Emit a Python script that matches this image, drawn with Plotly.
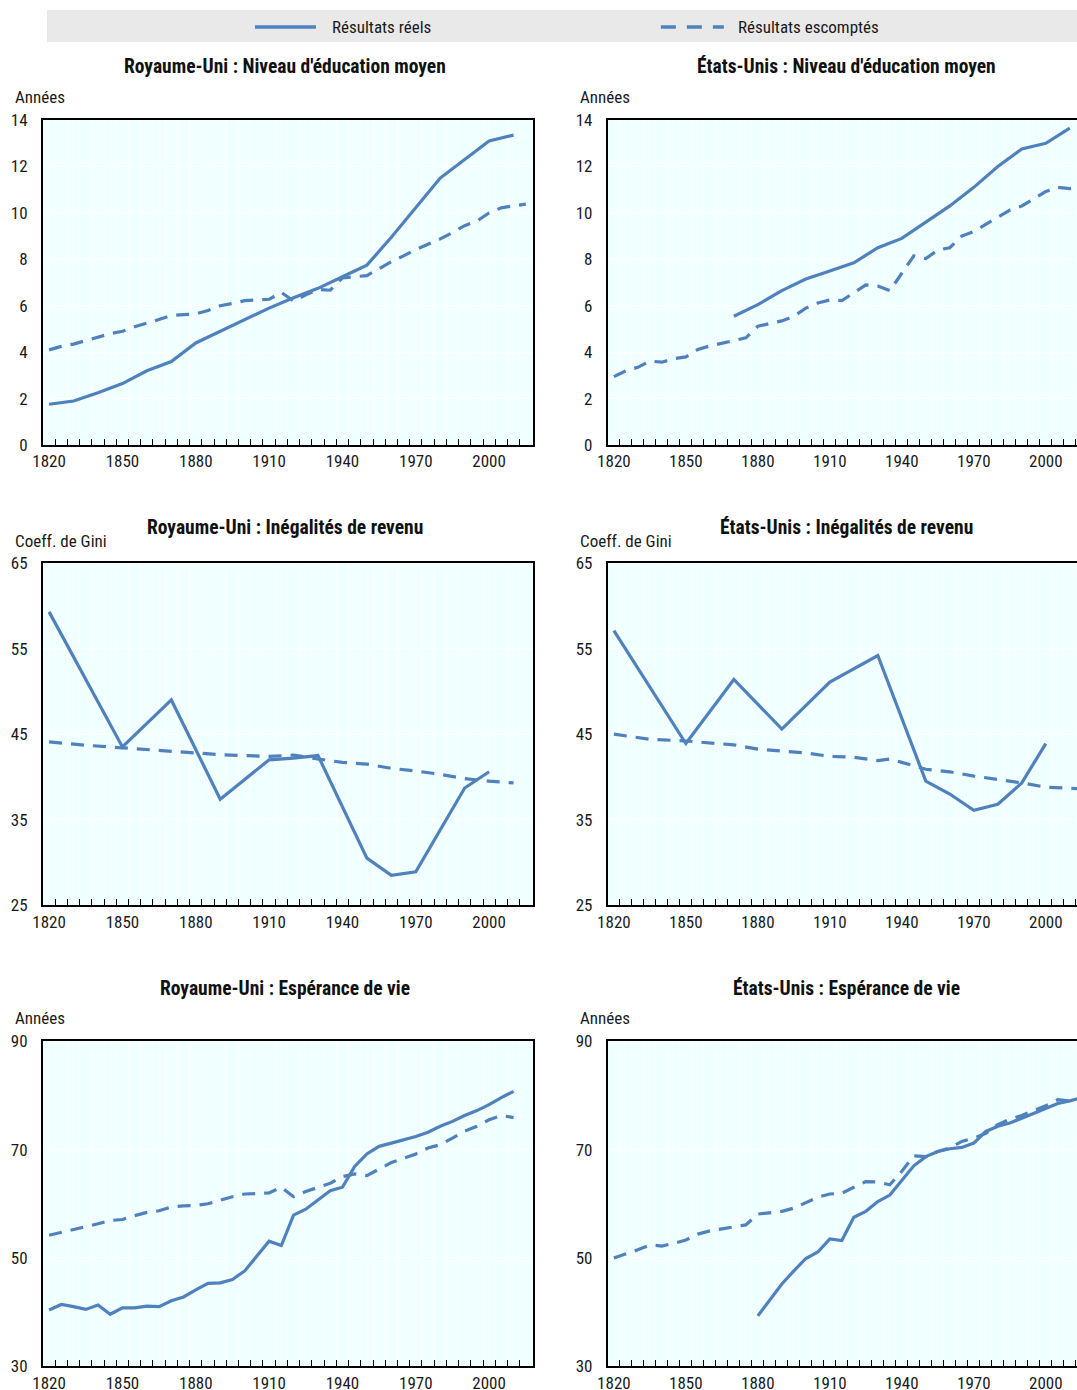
import plotly.graph_objects as go

# ---------------------------------------------------------------- data
# Royaume-Uni : niveau d'éducation moyen (années)
uk_edu_years_actual = [1820, 1830, 1840, 1850, 1860, 1870, 1880, 1890, 1900, 1910,
                       1920, 1930, 1940, 1950, 1960, 1970, 1980, 1990, 2000, 2010]
uk_edu_actual = [1.76, 1.9, 2.25, 2.65, 3.2, 3.6, 4.4, 4.9, 5.4, 5.9,
                 6.35, 6.75, 7.25, 7.75, 8.95, 10.2, 11.5, 12.3, 13.1, 13.35]
uk_edu_years_expected = list(range(1820, 2020, 5))
uk_edu_expected = [4.1, 4.25, 4.35, 4.5, 4.65, 4.8, 4.9, 5.1, 5.25, 5.4,
                   5.58, 5.62, 5.65, 5.8, 6.0, 6.1, 6.22, 6.25, 6.28, 6.58,
                   6.2, 6.47, 6.7, 6.67, 7.2, 7.25, 7.3, 7.6, 7.9, 8.15,
                   8.42, 8.65, 8.88, 9.15, 9.45, 9.65, 10.0, 10.22, 10.3, 10.38]

# États-Unis : niveau d'éducation moyen (années)
us_edu_years_actual = [1870, 1880, 1890, 1900, 1910, 1920, 1930, 1940, 1950, 1960,
                       1970, 1980, 1990, 2000, 2010]
us_edu_actual = [5.55, 6.05, 6.65, 7.15, 7.5, 7.85, 8.5, 8.9, 9.6, 10.3,
                 11.1, 12.0, 12.75, 13.0, 13.65]
us_edu_years_expected = list(range(1820, 2020, 5))
us_edu_expected = [2.95, 3.2, 3.35, 3.62, 3.57, 3.72, 3.8, 4.12, 4.27, 4.38,
                   4.48, 4.62, 5.12, 5.22, 5.35, 5.55, 5.9, 6.12, 6.25, 6.22,
                   6.55, 6.9, 6.85, 6.65, 7.4, 8.15, 8.03, 8.4, 8.5, 9.0,
                   9.2, 9.5, 9.82, 10.12, 10.3, 10.62, 10.92, 11.1, 11.05, 11.1]

# Royaume-Uni : inégalités de revenu (coefficient de Gini)
uk_gini_years_actual = [1820, 1850, 1870, 1890, 1910, 1920, 1930, 1950, 1960, 1970, 1990, 2000]
uk_gini_actual = [59.3, 43.5, 49.0, 37.4, 42.0, 42.2, 42.5, 30.5, 28.5, 28.9, 38.7, 40.6]
uk_gini_years_expected = [1820, 1835, 1850, 1870, 1880, 1890, 1910, 1920, 1930, 1940,
                          1950, 1960, 1970, 1980, 1990, 2000, 2010]
uk_gini_expected = [44.1, 43.7, 43.4, 43.0, 42.85, 42.6, 42.4, 42.55, 42.1, 41.7,
                    41.5, 41.0, 40.7, 40.3, 39.8, 39.5, 39.3]

# États-Unis : inégalités de revenu (coefficient de Gini)
us_gini_years_actual = [1820, 1850, 1870, 1890, 1910, 1930, 1950, 1960, 1970, 1980, 1990, 2000]
us_gini_actual = [57.1, 43.9, 51.4, 45.6, 51.1, 54.2, 39.5, 38.0, 36.1, 36.8, 39.3, 43.9]
us_gini_years_expected = [1820, 1835, 1850, 1860, 1870, 1880, 1890, 1900, 1910, 1920,
                          1930, 1935, 1940, 1950, 1960, 1970, 1980, 1990, 2000, 2010, 2015]
us_gini_expected = [45.0, 44.4, 44.2, 43.95, 43.75, 43.25, 43.05, 42.8, 42.4, 42.3,
                    41.9, 42.1, 41.7, 40.9, 40.6, 40.1, 39.7, 39.3, 38.8, 38.6, 38.6]

# Royaume-Uni : espérance de vie (années)
uk_life_years = list(range(1820, 2015, 5))
uk_life_actual = [40.4, 41.4, 41.0, 40.5, 41.3, 39.6, 40.8, 40.8, 41.1, 41.0,
                  42.1, 42.8, 44.1, 45.3, 45.4, 46.0, 47.6, 50.4, 53.1, 52.3,
                  57.9, 59.0, 60.7, 62.4, 63.05, 66.9, 69.2, 70.6, 71.2, 71.8,
                  72.4, 73.2, 74.3, 75.2, 76.3, 77.2, 78.3, 79.6, 80.75]
uk_life_expected = [54.2, 54.7, 55.2, 55.8, 56.3, 56.9, 57.1, 57.8, 58.4, 58.7,
                    59.4, 59.6, 59.7, 60.0, 60.7, 61.3, 61.8, 61.95, 62.0, 63.05,
                    61.3, 62.25, 63.05, 63.8, 65.0, 65.5, 65.2, 66.4, 67.6, 68.4,
                    69.2, 70.3, 70.9, 72.1, 73.4, 74.3, 75.5, 76.3, 75.9]

# États-Unis : espérance de vie (années)
us_life_years_actual = list(range(1880, 2020, 5))
us_life_actual = [39.3, 42.3, 45.2, 47.6, 49.9, 51.1, 53.5, 53.2, 57.5, 58.6,
                  60.4, 61.6, 64.4, 67.0, 68.7, 69.65, 70.15, 70.4, 71.2, 73.35,
                  74.3, 74.9, 75.8, 76.7, 77.5, 78.5, 79.0, 79.6]
us_life_years_expected = list(range(1820, 2020, 5))
us_life_expected = [50.0, 50.7, 51.5, 52.4, 52.2, 52.7, 53.3, 54.4, 55.0, 55.35,
                    55.7, 56.1, 58.1, 58.4, 58.6, 59.2, 60.2, 61.2, 61.8, 61.95,
                    63.05, 64.1, 64.0, 63.5, 66.0, 68.85, 68.7, 69.65, 70.3, 71.5,
                    72.1, 73.0, 74.6, 75.6, 76.3, 77.2, 78.1, 79.2, 79.0, 79.6]

x_tick_years = [1820, 1850, 1880, 1910, 1940, 1970, 2000]
x_boundaries = [1822.5 + 5 * k for k in range(39)]

panel_titles = ["Royaume-Uni : Niveau d'éducation moyen", "États-Unis : Niveau d'éducation moyen",
                "Royaume-Uni : Inégalités de revenu", "États-Unis : Inégalités de revenu",
                "Royaume-Uni : Espérance de vie", "États-Unis : Espérance de vie"]
unit_labels = ["Années", "Coeff. de Gini", "Années"]
legend_labels = ["Résultats réels", "Résultats escomptés"]

y_ticks = [[0, 2, 4, 6, 8, 10, 12, 14], [25, 35, 45, 55, 65], [30, 50, 70, 90]]
y_ranges = [[0, 14], [25, 65], [30, 90]]

# ---------------------------------------------------------------- style
PAGE_W, PAGE_H = 1077, 1390
# page position of a figure pixel: page = OFFSET + SCALE * figure
OFFSET_X, OFFSET_Y = 10, 10
SCALE_X, SCALE_Y = 0.99, 0.9855
W = round((PAGE_W - OFFSET_X) / SCALE_X)
H = round((PAGE_H - OFFSET_Y) / SCALE_Y)

FONT = "Liberation Sans Narrow, Arial Narrow, Roboto Condensed, Arial, sans-serif"
BLUE = "#4F81BD"
PLOT_BG = "#F0FFFF"
TEXT = "#1a1a1a"
DASH = "13px,9px"
PX_PER_YEAR = [2.445, 2.4]

# plot-area boxes in page pixels: (left, right) per column, (top, bottom) per row
cols_px = [(42, 532), (607, PAGE_W)]
rows_px = [(120, 445), (563, 905), (1041, 1366)]
x_ranges = [[1817.5, 1817.5 + (cols_px[c][1] - cols_px[c][0]) / PX_PER_YEAR[c]] for c in range(2)]


def px_x(x):
    return min(1.0, max(0.0, (x - OFFSET_X) / SCALE_X / W))


def px_y(y):
    return min(1.0, max(0.0, 1 - (y - OFFSET_Y) / SCALE_Y / H))


series = [
    (uk_edu_years_actual, uk_edu_actual, uk_edu_years_expected, uk_edu_expected),
    (us_edu_years_actual, us_edu_actual, us_edu_years_expected, us_edu_expected),
    (uk_gini_years_actual, uk_gini_actual, uk_gini_years_expected, uk_gini_expected),
    (us_gini_years_actual, us_gini_actual, us_gini_years_expected, us_gini_expected),
    (uk_life_years, uk_life_actual, uk_life_years, uk_life_expected),
    (us_life_years_actual, us_life_actual, us_life_years_expected, us_life_expected),
]

fig = go.Figure()
layout = {}
annotations = []
shapes = []

for i, (xa, ya, xe, ye) in enumerate(series):
    r, c = divmod(i, 2)
    n = i + 1
    xname = "x" if n == 1 else f"x{n}"
    yname = "y" if n == 1 else f"y{n}"

    fig.add_trace(go.Scatter(x=xe, y=ye, mode="lines", xaxis=xname, yaxis=yname,
                             line=dict(color=BLUE, width=3.2, dash=DASH),
                             showlegend=False, hoverinfo="skip"))
    fig.add_trace(go.Scatter(x=xa, y=ya, mode="lines", xaxis=xname, yaxis=yname,
                             line=dict(color=BLUE, width=3.2),
                             showlegend=False, hoverinfo="skip"))

    left, right = cols_px[c]
    top, bottom = rows_px[r]
    layout["xaxis" if n == 1 else f"xaxis{n}"] = dict(
        domain=[px_x(left), px_x(right)], anchor=yname, range=x_ranges[c],
        tickvals=x_tick_years, ticks="", showgrid=False, zeroline=False,
        showline=True, linecolor="black", linewidth=2, mirror=True,
        tickfont=dict(family=FONT, size=17, color=TEXT),
        minor=dict(tickvals=x_boundaries, ticks="inside", ticklen=6, tickwidth=1.3,
                   tickcolor="black", showgrid=True, gridcolor="white", gridwidth=1),
        fixedrange=True,
    )
    layout["yaxis" if n == 1 else f"yaxis{n}"] = dict(
        domain=[px_y(bottom), px_y(top)], anchor=xname, range=y_ranges[r],
        tickvals=y_ticks[r], ticks="", showgrid=True, gridcolor="white", gridwidth=1,
        zeroline=False, showline=True, linecolor="black", linewidth=2,
        mirror=(c == 0), ticklabelstandoff=10,
        tickfont=dict(family=FONT, size=17, color=TEXT),
        fixedrange=True,
    )
    # light background of each plot area
    shapes.append(dict(type="rect", xref="paper", yref="paper", layer="below",
                       x0=px_x(left), x1=px_x(right), y0=px_y(bottom), y1=px_y(top),
                       fillcolor=PLOT_BG, line=dict(width=0)))

    # panel title
    title_y = [66, 527, 988][r]
    title_x = [284, 846][c]
    annotations.append(dict(text=f"<b>{panel_titles[i]}</b>", xref="paper", yref="paper",
                            x=px_x(title_x), y=px_y(title_y), xanchor="center", yanchor="middle",
                            showarrow=False, font=dict(family=FONT, size=19.5, color="#111")))
    # unit label above the y axis
    unit_y = [97, 541, 1018][r]
    unit_x = [12, 577][c]
    annotations.append(dict(text=unit_labels[r], xref="paper", yref="paper",
                            x=px_x(unit_x), y=px_y(unit_y), xanchor="left", yanchor="middle",
                            showarrow=False, font=dict(family=FONT, size=17, color=TEXT)))

# legend band with line samples
shapes.append(dict(type="rect", xref="paper", yref="paper", layer="below",
                   x0=px_x(46), x1=1.0, y0=px_y(42), y1=px_y(8),
                   fillcolor="#E9E9E9", line=dict(width=0)))
shapes.append(dict(type="line", xref="paper", yref="paper",
                   x0=px_x(254), x1=px_x(315), y0=px_y(27), y1=px_y(27),
                   line=dict(color=BLUE, width=3.5)))
shapes.append(dict(type="line", xref="paper", yref="paper",
                   x0=px_x(660), x1=px_x(723), y0=px_y(27), y1=px_y(27),
                   line=dict(color=BLUE, width=3.5, dash="15px,11px")))
for label, lx in zip(legend_labels, [329, 735]):
    annotations.append(dict(text=label, xref="paper", yref="paper",
                            x=px_x(lx), y=px_y(27), xanchor="left", yanchor="middle",
                            showarrow=False, font=dict(family=FONT, size=17, color=TEXT)))

fig.update_layout(
    width=W, height=H, margin=dict(l=0, r=0, t=0, b=0),
    paper_bgcolor="white", plot_bgcolor="rgba(0,0,0,0)",
    showlegend=False, annotations=annotations, shapes=shapes,
    **layout,
)

fig.write_html("out.html", config={"displayModeBar": False})
